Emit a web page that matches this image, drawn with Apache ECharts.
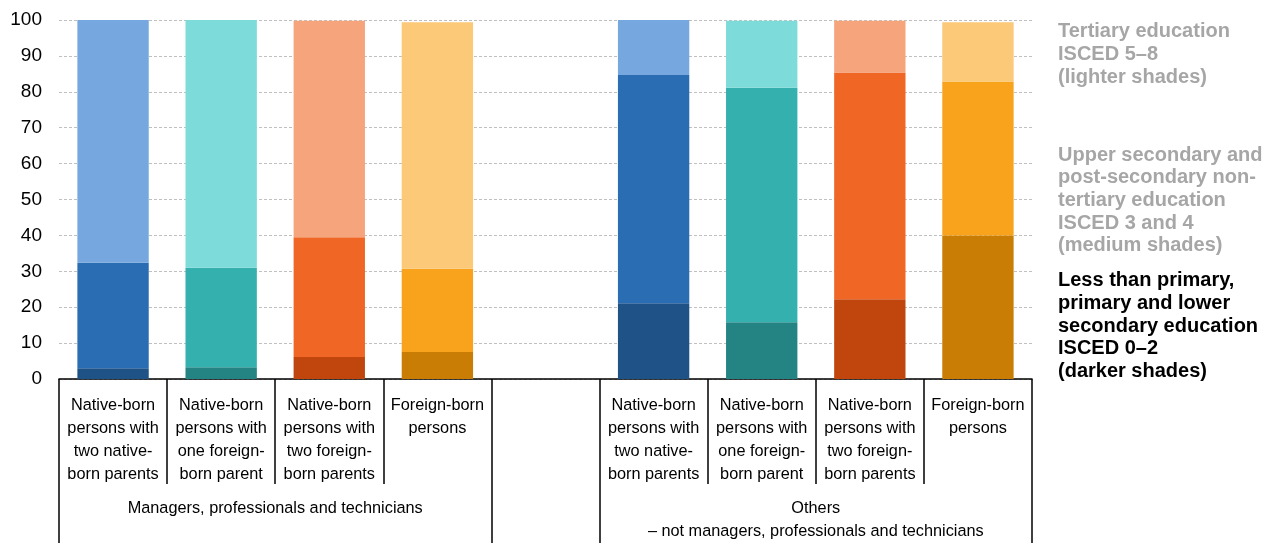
<!DOCTYPE html>
<html>
<head>
<meta charset="utf-8">
<script src="https://cdn.jsdelivr.net/npm/echarts@6/dist/echarts.min.js"></script>
<style>html,body{margin:0;padding:0;background:#fff;overflow:hidden;width:1264px;height:543px}#c{width:1264px;height:543px}</style>
</head>
<body>
<div id="c"></div>
<script>
// Categories (one empty slot separates the two occupational groups)
const categories = [
  'Native-born\npersons with\ntwo native-\nborn parents',
  'Native-born\npersons with\none foreign-\nborn parent',
  'Native-born\npersons with\ntwo foreign-\nborn parents',
  'Foreign-born\npersons',
  '',
  'Native-born\npersons with\ntwo native-\nborn parents',
  'Native-born\npersons with\none foreign-\nborn parent',
  'Native-born\npersons with\ntwo foreign-\nborn parents',
  'Foreign-born\npersons'
];
const groupNames = ['Managers, professionals and technicians', '', 'Others\n– not managers, professionals and technicians'];
const groupSizes = [4, 1, 4];

// Shares (%) by education level
const lowEdu    = [3.0, 3.3, 6.1, 7.5, null, 21.1, 15.8, 22.2, 40.0];
const mediumEdu = [29.4, 27.7, 33.4, 23.2, null, 63.6, 65.3, 63.2, 42.9];
const highEdu   = [67.6, 69.0, 60.3, 68.7, null, 15.3, 18.7, 14.4, 16.5];

const yTicks = [0, 10, 20, 30, 40, 50, 60, 70, 80, 90, 100];

// colour families per category: [dark, medium, light]
const blue   = ['#1f5287', '#2a6db3', '#76a7df'];
const teal   = ['#248383', '#34b0af', '#7ddbd9'];
const orange = ['#c1460e', '#ef6625', '#f6a47c'];
const amber  = ['#c97d04', '#f9a31c', '#fbc977'];
const families = [blue, teal, orange, amber, null, blue, teal, orange, amber];

const legendTexts = [
  'Tertiary education\nISCED 5–8\n(lighter shades)',
  'Upper secondary and\npost-secondary non-\ntertiary education\nISCED 3 and 4\n(medium shades)',
  'Less than primary,\nprimary and lower\nsecondary education\nISCED 0–2\n(darker shades)'
];

// derived group boundaries / centres on the slot scale
const bounds = [0];
groupSizes.forEach(s => bounds.push(bounds[bounds.length - 1] + s));
const centres = groupSizes.map((s, i) => bounds[i] + s / 2);

function mk(vals, shade) {
  return vals.map((v, i) => v == null ? '-' : {
    value: v,
    itemStyle: { color: families[i][shade] }
  });
}

const catFont = "'Liberation Sans',Arial,sans-serif";
const legFont = "'Liberation Sans',Arial,sans-serif";
const chart = echarts.init(document.getElementById('c'), null, { renderer: 'canvas', width: 1264, height: 543 });
chart.setOption({
  animation: false,
  grid: { left: 59, right: 232, top: 20, bottom: 162 },
  title: [
    { text: legendTexts[0], left: 1058, top: 20.5, padding: 0,
      textStyle: { fontSize: 20, fontWeight: 'bold', color: '#a6a6a6', lineHeight: 22.6, fontFamily: legFont } },
    { text: legendTexts[1], left: 1058, top: 144, padding: 0,
      textStyle: { fontSize: 20, fontWeight: 'bold', color: '#a6a6a6', lineHeight: 22.6, fontFamily: legFont } },
    { text: legendTexts[2], left: 1058, top: 269, padding: 0,
      textStyle: { fontSize: 20, fontWeight: 'bold', color: '#000', lineHeight: 22.8, fontFamily: legFont } }
  ],
  xAxis: [
    {
      type: 'category',
      data: categories,
      position: 'bottom',
      axisLine: { show: true, lineStyle: { color: '#000', width: 1.5 } },
      axisTick: { show: true, interval: 0, length: 105, lineStyle: { color: '#000', width: 1.5 } },
      axisLabel: {
        interval: 0, margin: 15, color: '#000', fontSize: 16.3, lineHeight: 23,
        fontFamily: catFont, align: 'center', verticalAlign: 'top'
      },
      splitLine: { show: false }
    },
    {
      type: 'value',
      min: 0, max: bounds[bounds.length - 1],
      position: 'bottom',
      axisLine: { show: false },
      axisTick: { show: true, customValues: bounds, length: 170, lineStyle: { color: '#000', width: 1.5 } },
      axisLabel: {
        customValues: centres,
        formatter: function (v) { const i = centres.indexOf(v); return i >= 0 ? groupNames[i] : ''; },
        margin: 118, color: '#000', fontSize: 16.3, lineHeight: 23, fontFamily: catFont,
        verticalAlign: 'top', align: 'center'
      },
      splitLine: { show: false }
    }
  ],
  yAxis: {
    type: 'value', min: 0, max: 100, interval: 10,
    axisLine: { show: false },
    axisTick: { show: false },
    axisLabel: {
      margin: 17, color: '#000', fontSize: 19, fontFamily: "'Liberation Sans',Arial,sans-serif",
      formatter: v => yTicks.indexOf(v) >= 0 ? String(v) : ''
    },
    splitLine: { show: true, lineStyle: { color: '#bfbfbf', type: [3, 2], width: 1 } }
  },
  series: [
    { name: 'ISCED 0–2', type: 'bar', stack: 'edu', barCategoryGap: '34%', data: mk(lowEdu, 0) },
    { name: 'ISCED 3–4', type: 'bar', stack: 'edu', barCategoryGap: '34%', data: mk(mediumEdu, 1) },
    { name: 'ISCED 5–8', type: 'bar', stack: 'edu', barCategoryGap: '34%', data: mk(highEdu, 2) }
  ]
});
</script>
</body>
</html>
